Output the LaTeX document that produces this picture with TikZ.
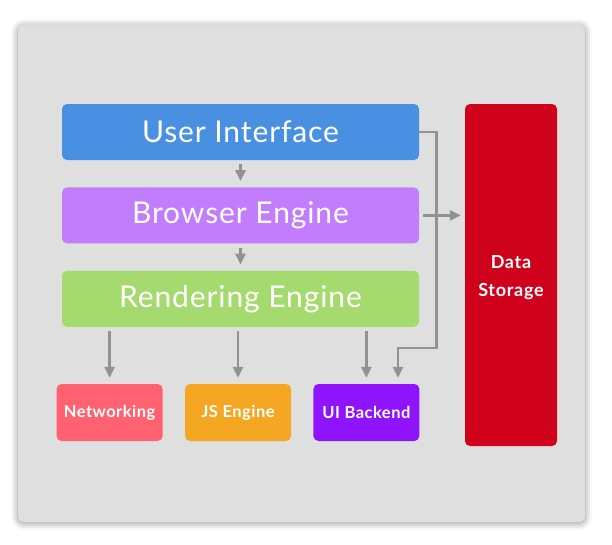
\documentclass[tikz,border=0pt]{standalone}
\usepackage{fontspec}
\setmainfont{Lato}
\usepackage{tikz}
\usetikzlibrary{positioning,arrows.meta,shadows.blur}

\definecolor{uiblue}{HTML}{4A90E2}
\definecolor{bepurple}{HTML}{C17DFB}
\definecolor{regreen}{HTML}{A5DB6E}
\definecolor{netred}{HTML}{FF6170}
\definecolor{jsorange}{HTML}{F5A623}
\definecolor{uibviolet}{HTML}{9013FE}
\definecolor{dsred}{HTML}{D0021B}
\definecolor{panelgray}{HTML}{DFDFDF}
\definecolor{arrowgray}{HTML}{929292}

\begin{document}
\begin{tikzpicture}[x=1pt, y=1pt, node distance=27pt and 22pt,
    layer/.style={rectangle, rounded corners=5pt, minimum width=357pt, minimum height=56pt,
        text=white, inner sep=0pt, font=\fontsize{30}{32}\selectfont\addfontfeatures{LetterSpace=3}},
    part/.style={rectangle, rounded corners=5pt, minimum width=106pt, minimum height=57pt,
        text=white, inner sep=0pt, font=\fontsize{16.5}{18}\selectfont\bfseries\addfontfeatures{LetterSpace=3}},
    arr/.style={draw=arrowgray, line width=2.6pt, -{Triangle[width=10pt,length=11pt]},
        shorten <=4pt, shorten >=6pt}]
        \useasboundingbox (0,0) rectangle (612,-544);
        % Le cadre
        \fill[panelgray, rounded corners=6pt, blur shadow={shadow xshift=0pt, shadow yshift=-1pt,
            shadow blur radius=7pt, shadow opacity=45}] (18,-25) rectangle (585,-522);

        % Les couches
        \node (ui) [layer, fill=uiblue] at (240.5,-132) {User Interface};
        \node (be) [layer, fill=bepurple, below=of ui] {Browser Engine};
        \node (re) [layer, fill=regreen, below=of be] {Rendering Engine};

        % Les composants
        \node (js) [part, fill=jsorange] at (238,-412.5) {JS Engine};
        \node (net) [part, fill=netred, left=of js] {Networking};
        \node (uib) [part, fill=uibviolet, right=of js] {UI Backend};
        \node (ds) [rectangle, rounded corners=5pt, fill=dsred, minimum width=92pt, minimum height=342pt]
            at (511,-275) {};
        \node (dstext) [text=white, align=center, inner sep=0pt, yshift=-3pt,
            font=\fontsize{18}{28}\selectfont\bfseries\addfontfeatures{LetterSpace=4}] at (ds.center) {Data\\Storage};
        \coordinate (bend) at (398,-348);

        % Les flèches
        \draw[arr] (ui) -- (be);
        \draw[arr] (be) -- (re);
        \draw[arr] (re.south -| net) -- (net);
        \draw[arr] (re.south -| js) -- (js);
        \draw[arr] (re.south -| uib) -- (uib);
        \draw[arr, shorten <=0pt] (ui.east) -- ++(17,0) |- (bend) -- (bend |- uib.north);
        \draw[arr, shorten >=4pt] (be.east) -- (be.east -| ds.west);
    \end{tikzpicture}
\end{document}
